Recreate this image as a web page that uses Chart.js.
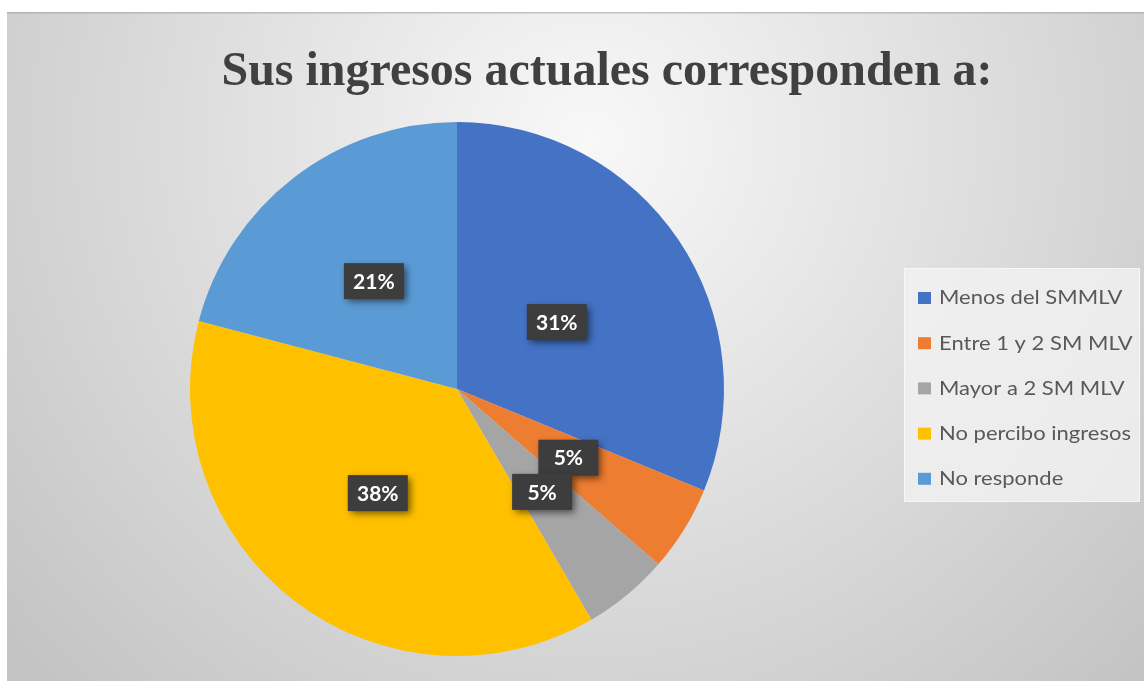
<!DOCTYPE html>
<html>
<head>
<meta charset="utf-8">
<script src="https://cdn.jsdelivr.net/npm/chart.js@4"></script>
<style>
  html, body { margin: 0; padding: 0; background: #ffffff; }
  #wrap { width: 1144px; height: 681px; position: relative; }
  .fl { position: absolute; left: -9999px; top: 0; }
</style>
</head>
<body>
<span class="fl" style="font: bold 48px 'Liberation Serif'">Sus</span>
<span class="fl" style="font: 20px Lato">Menos</span>
<span class="fl" style="font: bold 21px Lato">21%</span>
<div id="wrap"><canvas id="c" width="1144" height="681"></canvas></div>
<script>
const titleText = 'Sus ingresos actuales corresponden a:';
const categories = ['Menos del SMMLV', 'Entre 1 y 2 SMMLV', 'Mayor a 2 SMMLV', 'No percibo ingresos', 'No responde'];
const legendLabels = ['Menos del SMMLV', 'Entre 1 y 2 SM MLV', 'Mayor a 2 SM MLV', 'No percibo ingresos', 'No responde'];
const values = [31.2, 5.2, 5.2, 37.5, 20.9];
const colors = ['#4472C4', '#ED7D31', '#A5A5A5', '#FFC000', '#5B9BD5'];

const labelRadiusFrac = [0.45, 0.49, 0.50, 0.49, 0.51];

const decorPlugin = {
  id: 'decor',
  beforeDraw(chart) {
    const ctx = chart.ctx;
    ctx.save();
    ctx.fillStyle = '#ffffff';
    ctx.fillRect(0, 0, chart.width, chart.height);
    const g = ctx.createRadialGradient(590, 140, 0, 590, 140, 760);
    g.addColorStop(0, '#f8f8f8');
    g.addColorStop(0.35, '#e6e6e6');
    g.addColorStop(1, '#c4c4c4');
    ctx.fillStyle = g;
    ctx.fillRect(7, 12, chart.width - 7, chart.height - 12);
    ctx.fillStyle = 'rgba(150,150,150,0.5)';
    ctx.fillRect(7, 12, chart.width - 7, 1.5);
    // title
    ctx.fillStyle = '#404040';
    ctx.font = 'bold 48px "Liberation Serif", "Times New Roman", serif';
    ctx.textAlign = 'center';
    ctx.textBaseline = 'alphabetic';
    const w = ctx.measureText(titleText).width;
    const target = 771;
    ctx.translate(607, 85);
    ctx.scale(target / w, 1);
    ctx.fillText(titleText, 0, 0);
    ctx.restore();

    // legend box
    ctx.save();
    ctx.fillStyle = 'rgba(243,243,243,0.8)';
    ctx.fillRect(904, 268, 236, 234);
    ctx.strokeStyle = 'rgba(255,255,255,0.5)';
    ctx.lineWidth = 1;
    ctx.strokeRect(904.5, 268.5, 235, 233);
    ctx.font = '20px Lato, "Open Sans", sans-serif';
    ctx.textBaseline = 'middle';
    ctx.textAlign = 'left';
    const ds = chart.data.datasets[0];
    legendLabels.forEach((lab, i) => {
      const y = 298 + i * 45.2;
      ctx.fillStyle = ds.backgroundColor[i];
      ctx.fillRect(918, y - 6, 13, 12);
      ctx.save();
      ctx.translate(939, y);
      ctx.scale(1.1, 1);
      ctx.fillStyle = '#595959';
      ctx.fillText(lab, 0, 0);
      ctx.restore();
    });
    ctx.restore();
  },
  afterDatasetsDraw(chart) {
    const ctx = chart.ctx;
    const meta = chart.getDatasetMeta(0);
    const data = chart.data.datasets[0].data;
    const total = data.reduce((a, b) => a + b, 0);
    ctx.save();
    ctx.font = 'bold 21px Lato, "Open Sans", sans-serif';
    ctx.textAlign = 'center';
    ctx.textBaseline = 'middle';
    meta.data.forEach((arc, i) => {
      const p = arc.getProps(['x', 'y', 'startAngle', 'endAngle', 'outerRadius'], true);
      const mid = (p.startAngle + p.endAngle) / 2;
      const r = p.outerRadius * labelRadiusFrac[i];
      const x = p.x + Math.cos(mid) * r;
      const y = p.y + Math.sin(mid) * r;
      const txt = Math.round(data[i] / total * 100) + '%';
      const bw = 60, bh = 36;
      ctx.save();
      ctx.shadowColor = 'rgba(0,0,0,0.55)';
      ctx.shadowBlur = 7;
      ctx.shadowOffsetX = 3;
      ctx.shadowOffsetY = 3;
      ctx.fillStyle = '#3d3d3d';
      ctx.fillRect(x - bw / 2, y - bh / 2, bw, bh);
      ctx.restore();
      ctx.fillStyle = '#ffffff';
      ctx.fillText(txt, x, y + 1);
    });
    ctx.restore();
  }
};

function build() {
  new Chart(document.getElementById('c'), {
    type: 'pie',
    data: {
      labels: categories,
      datasets: [{
        data: values,
        backgroundColor: colors,
        borderWidth: 0,
        hoverOffset: 0
      }]
    },
    options: {
      responsive: false,
      animation: false,
      events: [],
      layout: { padding: { left: 190, right: 420, top: 122, bottom: 25 } },
      plugins: {
        legend: { display: false },
        title: { display: false },
        tooltip: { enabled: false }
      }
    },
    plugins: [decorPlugin]
  });
}

Promise.all([
  document.fonts.load('bold 48px "Liberation Serif"'),
  document.fonts.load('20px Lato'),
  document.fonts.load('bold 21px Lato')
]).then(build, build);
</script>
</body>
</html>
